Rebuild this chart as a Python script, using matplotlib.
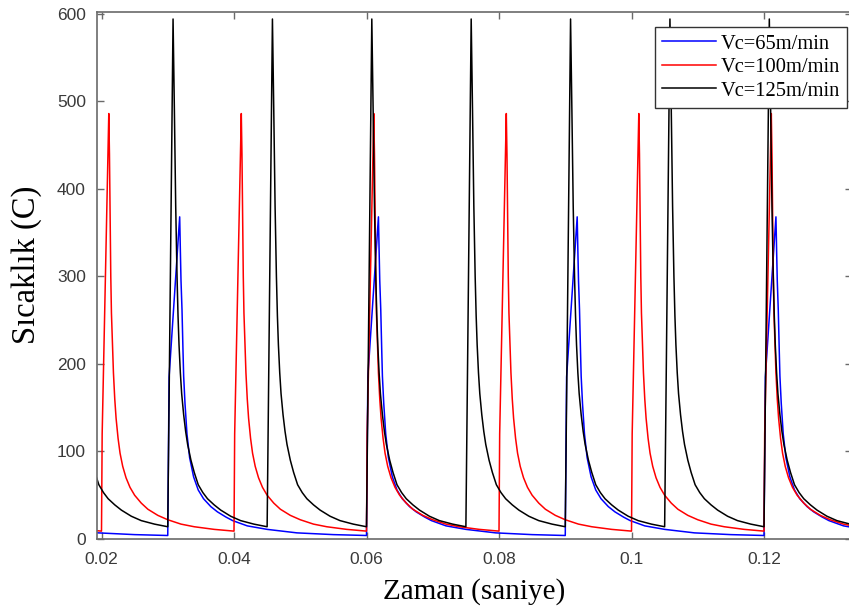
import matplotlib
matplotlib.use("Agg")
import matplotlib.pyplot as plt
from matplotlib.ticker import FormatStrFormatter

# one cycle of each curve: time since the cycle start (s) and temperature (C)
blue_dt = [0.0, 0.0002, 0.0018, 0.0019, 0.002, 0.00215, 0.0023, 0.0024, 0.0026, 0.0029,
           0.0033, 0.0039, 0.0046, 0.0054, 0.0065, 0.0075, 0.0088, 0.0098, 0.012, 0.015,
           0.0195, 0.025, 0.03]
blue_temp = [4, 185, 368, 330, 295, 262, 215, 186, 155, 120,
             93, 71, 56, 46, 37, 31, 25, 21, 15, 11,
             7, 5, 4]

red_dt = [0.0, 0.0001, 0.0011, 0.0012, 0.0013, 0.0014, 0.0015, 0.00165, 0.0018, 0.002,
          0.0022, 0.0025, 0.0028, 0.0032, 0.0037, 0.0043, 0.005, 0.006, 0.007, 0.0085,
          0.01, 0.012, 0.014, 0.017, 0.02]
red_temp = [9, 120, 486, 440, 370, 300, 258, 222, 190, 160,
            138, 115, 98, 83, 70, 59, 50, 41, 34, 27,
            22, 17, 14, 11, 9]

black_dt = [0.0, 0.0008, 0.0009, 0.001, 0.0011, 0.0012, 0.0013, 0.0014, 0.00155, 0.0017,
            0.0019, 0.0021, 0.0024, 0.0027, 0.003, 0.0035, 0.004, 0.0046, 0.0053, 0.006,
            0.007, 0.008, 0.0095, 0.011, 0.013, 0.015]
black_temp = [14, 594, 545, 490, 430, 380, 338, 300, 255, 222,
              190, 166, 142, 123, 108, 90, 76, 62, 53, 46,
              39, 33, 26, 21, 17, 14]

# start time of every cycle
blue_starts = [0.0, 0.03, 0.06, 0.09, 0.12]
red_starts = [0.0, 0.02, 0.04, 0.06, 0.08, 0.10, 0.12]
black_starts = [0.015, 0.03, 0.045, 0.06, 0.075, 0.09, 0.105, 0.12]

labels = ["Vc=65m/min", "Vc=100m/min", "Vc=125m/min"]
x_ticks = [0.02, 0.04, 0.06, 0.08, 0.10, 0.12]
y_ticks = [0, 100, 200, 300, 400, 500, 600]


def build(starts, dts, temps):
    ts, ys = [], []
    for s in starts:
        ts.extend(s + d for d in dts)
        ys.extend(temps)
    return ts, ys


def main():
    fig = plt.figure(figsize=(8.49, 6.15), dpi=100)
    ax = fig.add_axes([97 / 849, 76 / 615, 755 / 849, 527 / 615])

    for starts, dts, temps, c, lab in [
        (blue_starts, blue_dt, blue_temp, "#0000ff", labels[0]),
        (red_starts, red_dt, red_temp, "#ff0000", labels[1]),
        (black_starts, black_dt, black_temp, "#000000", labels[2]),
    ]:
        ts, ys = build(starts, dts, temps)
        ax.plot(ts, ys, color=c, lw=1.1, label=lab)

    ax.set_xlim(0.01932, 0.13328)
    ax.set_ylim(0, 602)
    ax.set_xticks(x_ticks)
    ax.set_yticks(y_ticks)
    ax.xaxis.set_major_formatter(FormatStrFormatter("%g"))

    for sp in ax.spines.values():
        sp.set_color("#6a6a6a")
        sp.set_linewidth(1.2)
    ax.tick_params(direction="in", length=5, width=1, color="#6a6a6a",
                   top=True, right=True, labelsize=12.5, labelcolor="#3a3a3a")
    ax.tick_params(axis="x", pad=9)
    ax.tick_params(axis="y", pad=8)
    for lb in ax.get_xticklabels() + ax.get_yticklabels():
        lb.set_family("Liberation Sans")

    ax.set_xlabel("Zaman (saniye)", family="Liberation Serif", fontsize=21, labelpad=8)
    ax.set_ylabel("Sıcaklık (C)", family="Liberation Serif", fontsize=23.5)
    ax.yaxis.set_label_coords(-0.073, 0.52)

    leg = ax.legend(loc="upper left", bbox_to_anchor=(655 / 849, 1 - 27 / 615),
                    bbox_transform=fig.transFigure, prop={"family": "Liberation Serif", "size": 14.8},
                    fancybox=False, framealpha=1, edgecolor="#333333",
                    handlelength=2.6, handletextpad=0.25, labelspacing=0.2, borderpad=0.35,
                    borderaxespad=0)
    leg.get_frame().set_linewidth(1.0)

    fig.savefig("out.png", dpi=100)


if __name__ == "__main__":
    main()
